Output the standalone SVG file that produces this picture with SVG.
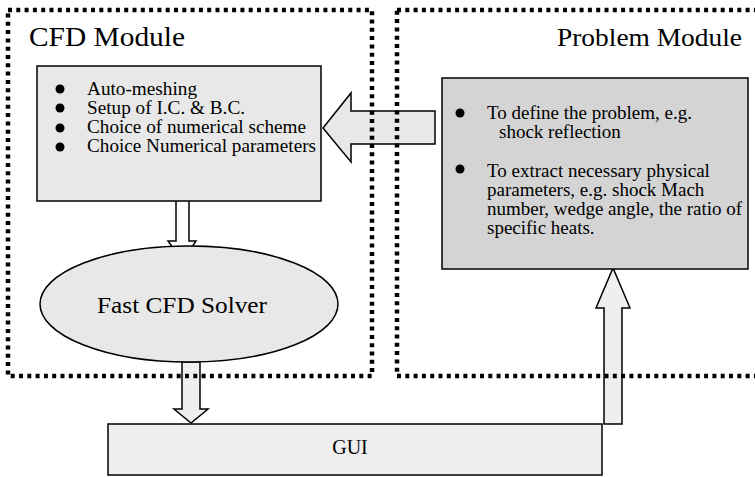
<svg xmlns="http://www.w3.org/2000/svg" width="755" height="477" viewBox="0 0 755 477">
<style>
.t{font-family:"Liberation Serif","Times New Roman",serif;fill:#000}
.box{stroke:#000;stroke-width:1.5}
.arr{stroke:#000;stroke-width:1.5;stroke-linejoin:miter}
.mod{fill:none;stroke:#000;stroke-width:4.5;stroke-dasharray:4 4.3}
</style>
<rect width="755" height="477" fill="#fff"/>
<g id="connectors">
<polygon class="arr" fill="#e8e8e8" points="435,111 351,111 351,93 323,128 351,162 351,144 435,144"/>
<polygon class="arr" fill="#fff" points="176,181 189,181 189,241 196,241 182.5,261 168,241 176,241"/>
<polygon class="arr" fill="#efefef" points="182,362 200,362 200,409 208,409 191,423 174,409 182,409"/>
<polygon class="arr" fill="#efefef" points="604,424 622,424 622,308 630,308 613,268 596,308 604,308"/>
</g>
<g id="cfd-module">
<rect class="mod" x="8" y="10" width="364" height="366"/>
<text class="t" x="29" y="46" font-size="28" textLength="156" lengthAdjust="spacingAndGlyphs">CFD Module</text>
</g>
<g id="problem-module">
<rect class="mod" x="397" y="10" width="400" height="366"/>
<text class="t" x="557" y="46" font-size="26" textLength="185" lengthAdjust="spacingAndGlyphs">Problem Module</text>
</g>
<g id="cfd-tasks">
<rect class="box" x="37" y="66" width="284" height="135" fill="#e8e8e8"/>
<circle cx="60" cy="89" r="4.5"/>
<circle cx="60" cy="108" r="4.5"/>
<circle cx="60" cy="128" r="4.5"/>
<circle cx="60" cy="147" r="4.5"/>
<text class="t" x="87" y="95" font-size="19" textLength="110" lengthAdjust="spacingAndGlyphs">Auto-meshing</text>
<text class="t" x="87" y="114" font-size="19" textLength="158" lengthAdjust="spacingAndGlyphs">Setup of I.C. &amp; B.C.</text>
<text class="t" x="87" y="133" font-size="19" textLength="219" lengthAdjust="spacingAndGlyphs">Choice of numerical scheme</text>
<text class="t" x="87" y="152" font-size="19" textLength="229" lengthAdjust="spacingAndGlyphs">Choice Numerical parameters</text>
</g>
<g id="problem-tasks">
<rect class="box" x="442" y="78" width="306" height="191" fill="#d4d4d4"/>
<circle cx="460" cy="113" r="4.5"/>
<circle cx="460" cy="169" r="4.5"/>
<text class="t" x="487" y="119" font-size="19">To define the problem, e.g.</text>
<text class="t" x="499" y="138" font-size="19">shock reflection</text>
<text class="t" x="487" y="177" font-size="19">To extract necessary physical</text>
<text class="t" x="487" y="196" font-size="19">parameters, e.g. shock Mach</text>
<text class="t" x="487" y="215" font-size="19">number, wedge angle, the ratio of</text>
<text class="t" x="487" y="234" font-size="19">specific heats.</text>
</g>
<g id="solver">
<ellipse class="box" cx="189" cy="304" rx="149" ry="58" fill="#e8e8e8"/>
<text class="t" x="97" y="313" font-size="24" textLength="170" lengthAdjust="spacingAndGlyphs">Fast CFD Solver</text>
</g>
<g id="gui">
<rect class="box" x="108" y="424" width="494" height="51" fill="#efefef"/>
<text class="t" x="350" y="454" font-size="20" text-anchor="middle">GUI</text>
</g>
</svg>
